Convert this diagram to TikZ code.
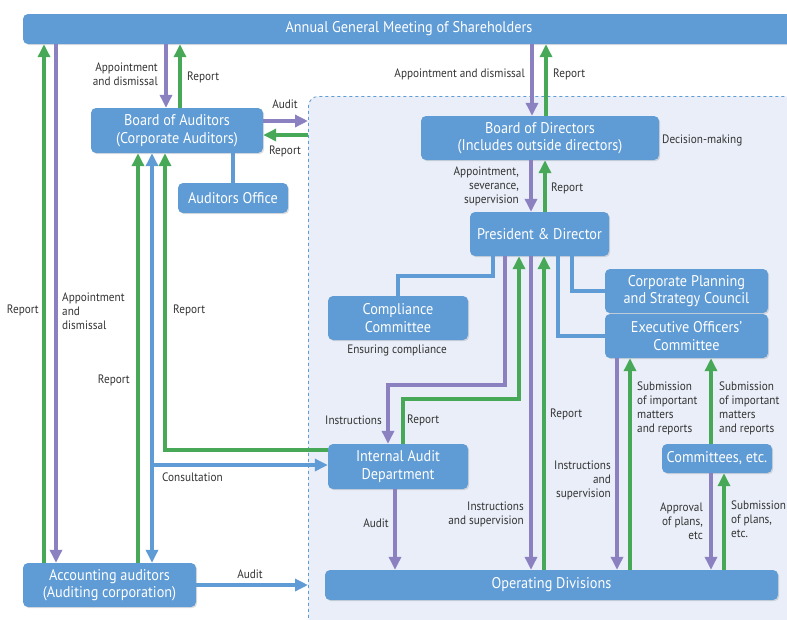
\documentclass[tikz,border=0pt]{standalone}
\usepackage{fontspec}
\setmainfont{PT Sans}[FakeStretch=0.92]
\usepackage{tikz}
\usetikzlibrary{calc,arrows.meta,shadows}
\definecolor{boxblue}{HTML}{5F9BD4}
\definecolor{linepurple}{HTML}{8B80C0}
\definecolor{linegreen}{HTML}{47A957}
\definecolor{zonefill}{HTML}{E9EEF8}
\definecolor{labelgray}{HTML}{333333}
\tikzstyle{unit}=[rectangle, rounded corners=5pt, fill=boxblue, text=white, align=center, inner sep=0pt, font=\fontsize{15.5}{17.5}\selectfont, drop shadow={opacity=0.25, shadow xshift=1.2pt, shadow yshift=-1.2pt}]
\tikzstyle{zone}=[rectangle, rounded corners=10pt, draw=boxblue, fill=zonefill, dashed, line width=0.8pt, anchor=north west, inner sep=0pt]
\tikzstyle{lbl}=[text=labelgray, inner sep=0pt, font=\fontsize{12.2}{14}\selectfont]
\tikzstyle{flow}=[line width=4.5pt, -{Triangle[width=12pt,length=13pt]}]
\tikzstyle{order}=[flow, draw=linepurple]
\tikzstyle{report}=[flow, draw=linegreen]
\tikzstyle{link}=[line width=4.5pt, draw=boxblue]
\newcommand{\tip}{Triangle[width=12pt,length=13pt]}

\begin{document}
\begin{tikzpicture}[x=1pt, y=-1pt]
        \useasboundingbox (0,0) rectangle (787,619);
        \node[zone, minimum width=492, minimum height=544] (grp) at (308,96) {};
        % boxes
        \node[unit, minimum width=772, minimum height=30] (agm) at (409,29) {Annual General Meeting of Shareholders};
        \node[unit, minimum width=172, minimum height=45] (boa) at (177,130.5) {Board of Auditors\\(Corporate Auditors)};
        \node[unit, minimum width=110, minimum height=30] (aoff) at (233,198) {Auditors Office};
        \node[unit, minimum width=173, minimum height=44] (aa) at (109.5,585) {Accounting auditors\\(Auditing corporation)};
        \node[unit, minimum width=238, minimum height=44] (bod) at (540,138) {Board of Directors\\(Includes outside directors)};
        \node[unit, minimum width=139, minimum height=44] (pres) at (539.5,234) {President \& Director};
        \node[unit, minimum width=140, minimum height=44] (comp) at (398,318) {Compliance\\Committee};
        \node[unit, minimum width=163, minimum height=44] (cpsc) at (686.5,291) {Corporate Planning\\and Strategy Council};
        \node[unit, minimum width=163, minimum height=44] (eoc) at (686.5,336) {Executive Officers'\\Committee};
        \node[unit, minimum width=140, minimum height=45] (iad) at (398,466.5) {Internal Audit\\Department};
        \node[unit, minimum width=110, minimum height=29] (cte) at (717,458.5) {Committees, etc.};
        \node[unit, minimum width=453, minimum height=30] (od) at (551.5,585) {Operating Divisions};

        % shareholders and auditors
        \draw[report] (aa.north -| 44,0) -- (agm.south -| 44,0);
        \draw[order] (agm.south -| 56,0) -- (aa.north -| 56,0);
        \draw[order] (agm.south -| 166,0) -- (boa.north -| 166,0);
        \draw[report] (boa.north -| 180,0) -- (agm.south -| 180,0);
        \draw[order] (boa.east |- 0,121) -- (grp.west |- 0,121);
        \draw[report] (grp.west |- 0,135) -- (boa.east |- 0,135);
        \draw[link] (boa.south -| 233,0) -- (aoff.north -| 233,0);
        \draw[report] (aa.north -| 138,0) -- (boa.south -| 138,0);
        \draw[link, {\tip}-{\tip}] (boa.south -| 152,0) -- (aa.north -| 152,0);
        \coordinate (cons) at (152,465);
        \draw[link, -{\tip}] (cons) -- (iad.west |- cons);
        \draw[report] (iad.west |- 0,450) -| (boa.south -| 165,0);
        \draw[link, -{\tip}] (aa.east) -- (grp.west |- aa.east);

        % directors and executives
        \draw[order] (agm.south -| 532,0) -- (bod.north -| 532,0);
        \draw[report] (bod.north -| 546,0) -- (agm.south -| 546,0);
        \draw[order] (bod.south -| 531,0) -- (pres.north -| 531,0);
        \draw[report] (pres.north -| 545,0) -- (bod.south -| 545,0);
        \draw[link] (pres.south -| 493,0) -- ++(0,20) -| (comp.north);
        \draw[link] (pres.south -| 572,0) |- (cpsc.west);
        \draw[link] (pres.south -| 558,0) |- (eoc.west);
        \draw[order] (pres.south -| 505,0) -- ++(0,129) -| (iad.north -| 388,0);
        \draw[report] (iad.north -| 403,0) -- ++(0,-45) -| (pres.south -| 519,0);
        \draw[order] (iad.south -| 395,0) -- (od.north -| 395,0);
        \draw[order] (pres.south -| 531,0) -- (od.north -| 531,0);
        \draw[report] (od.north -| 544,0) -- (pres.south -| 544,0);
        \draw[order] (eoc.south -| 617,0) -- (od.north -| 617,0);
        \draw[report] (od.north -| 630,0) -- (eoc.south -| 630,0);
        \draw[report] (cte.north -| 711,0) -- (eoc.south -| 711,0);
        \draw[order] (cte.south -| 711,0) -- (od.north -| 711,0);
        \draw[report] (od.north -| 724,0) -- (cte.south -| 724,0);

        % labels
        \node[lbl, anchor=east, align=right] (lAgmBoaA) at (158,74) {Appointment\\and dismissal};
        \node[lbl, anchor=west] (lAgmBoaR) at (187,77) {Report};
        \node[lbl, anchor=east] (lAgmAaR) at (39,310) {Report};
        \node[lbl, anchor=west, align=left] (lAgmAaA) at (62,311) {Appointment\\and\\dismissal};
        \node[lbl, anchor=east] (lAaBoaR) at (130,380) {Report};
        \node[lbl, anchor=west] (lIadBoaR) at (173,310) {Report};
        \node[lbl, anchor=west] (lCons) at (162,477) {Consultation};
        \node[lbl] (lAaAudit) at (250,574) {Audit};
        \node[lbl] (lBoaAudit) at (285,104) {Audit};
        \node[lbl] (lBoaR) at (285,151) {Report};
        \node[lbl, anchor=east] (lAgmBodA) at (525,74) {Appointment and dismissal};
        \node[lbl, anchor=west] (lAgmBodR) at (553,74) {Report};
        \node[lbl, anchor=west] (lDec) at (662,140) {Decision-making};
        \node[lbl, anchor=east, align=right] (lBodPresA) at (519,186) {Appointment,\\severance,\\supervision};
        \node[lbl, anchor=west] (lBodPresR) at (551,188) {Report};
        \node[lbl] (lComp) at (397,350) {Ensuring compliance};
        \node[lbl, anchor=east] (lIadI) at (382,420) {Instructions};
        \node[lbl, anchor=west] (lIadR) at (407,420) {Report};
        \node[lbl, anchor=east] (lIadAudit) at (389,523) {Audit};
        \node[lbl, anchor=east, align=right] (lPresOdI) at (524,514) {Instructions\\and supervision};
        \node[lbl, anchor=west] (lPresOdR) at (550,414) {Report};
        \node[lbl, anchor=east, align=right] (lEocOdI) at (611,480) {Instructions\\and\\supervision};
        \node[lbl, anchor=west, align=left] (lEocOdS) at (637,408) {Submission\\of important\\matters\\and reports};
        \node[lbl, anchor=west, align=left] (lCteEocS) at (719,408) {Submission\\of important\\matters\\and reports};
        \node[lbl, anchor=east, align=right] (lCteOdA) at (703,521) {Approval\\of plans,\\etc};
        \node[lbl, anchor=west, align=left] (lCteOdS) at (731,519) {Submission\\of plans,\\etc.};
\end{tikzpicture}
\end{document}
